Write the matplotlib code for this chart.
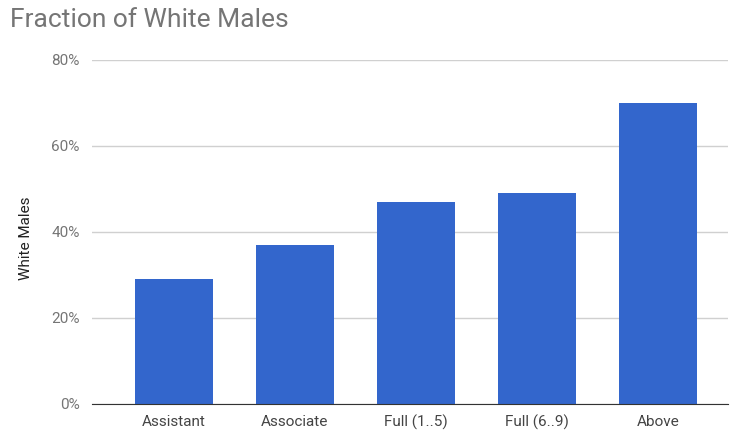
import matplotlib.pyplot as plt
from matplotlib.ticker import PercentFormatter

plt.rcParams['font.family'] = ['Roboto', 'DejaVu Sans']

# data
categories = ['Assistant', 'Associate', 'Full (1..5)', 'Full (6..9)', 'Above']
white_males = [29, 37, 47, 49, 70]
y_ticks = [0, 20, 40, 60, 80]

fig = plt.figure(figsize=(7.3, 4.37), dpi=100)
ax = fig.add_axes([0.126, 0.076, 0.871, 0.787])

x = range(len(categories))
ax.bar(x, white_males, width=0.645, color='#3366cc', zorder=3)

ax.set_ylim(0, 80)
ax.set_xlim(-0.678, 4.579)
ax.set_yticks(y_ticks)
ax.yaxis.set_major_formatter(PercentFormatter(decimals=0))
ax.set_xticks(list(x))
ax.set_xticklabels(categories)

ax.grid(axis='y', color='#d0d0d0', linewidth=1, zorder=0)
for side in ['top', 'right', 'left']:
    ax.spines[side].set_visible(False)
ax.spines['bottom'].set_color('#333333')
ax.spines['bottom'].set_zorder(4)
ax.tick_params(axis='both', length=0, labelsize=11, colors='#444444')
ax.tick_params(axis='y', pad=9, colors='#757575')
ax.tick_params(axis='x', pad=8)

ax.set_ylabel('White Males', fontsize=11, color='#222222')
ax.yaxis.set_label_coords(-0.092, 0.48)
fig.text(0.014, 0.955, 'Fraction of White Males', fontsize=19, color='#757575',
         ha='left', va='center')

fig.savefig('out.png', dpi=100)
